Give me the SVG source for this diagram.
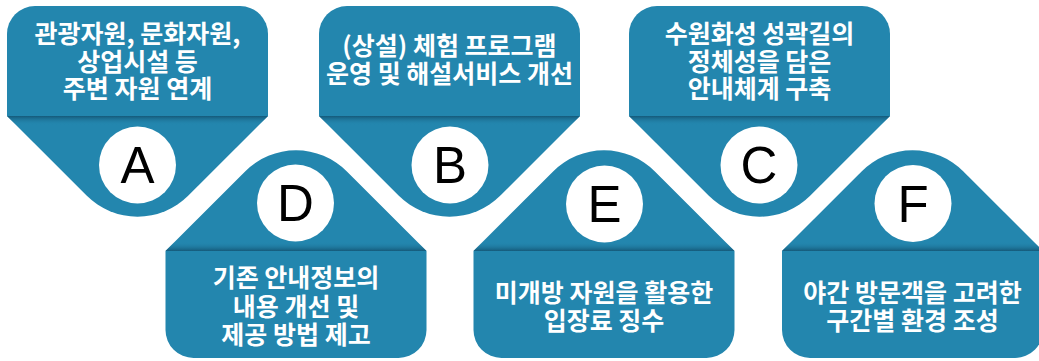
<svg xmlns="http://www.w3.org/2000/svg" width="1039" height="361" viewBox="0 0 1039 361">
<style>
.shape{fill:#2386ae}
.badge{fill:#ffffff}
.letter{font-family:"Liberation Sans",Arial,sans-serif;font-size:51px;fill:#000;text-anchor:middle}
.label{font-family:"Noto Sans CJK KR","Noto Sans",sans-serif;font-size:25px;font-weight:700;fill:#ffffff;text-anchor:middle}
</style>
<defs>
<linearGradient id="shTop" x1="0" y1="0" x2="0" y2="1">
<stop offset="0" stop-color="#155a7a"/>
<stop offset="1" stop-color="#2386ae" stop-opacity="0"/>
</linearGradient>
<linearGradient id="shBot" x1="0" y1="0" x2="0" y2="1">
<stop offset="0" stop-color="#2386ae" stop-opacity="0"/>
<stop offset="1" stop-color="#155a7a"/>
</linearGradient>
</defs>
<rect width="1039" height="361" fill="#ffffff"/>

<g id="node-A">
<path class="shape" d="M7,34 A28,28 0 0 1 35,6 H240 A28,28 0 0 1 268,34 V116 L188.4,195.6 A72,72 0 0 1 86.6,195.6 L7,116 Z"/>
<polygon points="7,116 268,116 259,125 16,125" fill="url(#shTop)"/>
<text class="label" x="137.5" y="43">관광자원, 문화자원,</text>
<text class="label" x="137.5" y="70.5">상업시설 등</text>
<text class="label" x="137.5" y="98">주변 자원 연계</text>
<circle class="badge" cx="137.5" cy="165" r="38.5"/>
<text class="letter" x="137.5" y="183">A</text>
</g>

<g id="node-B">
<path class="shape" d="M319,34 A28,28 0 0 1 347,6 H552 A28,28 0 0 1 580,34 V116 L500.4,195.6 A72,72 0 0 1 398.6,195.6 L319,116 Z"/>
<polygon points="319,116 580,116 571,125 328,125" fill="url(#shTop)"/>
<text class="label" x="449.5" y="55">(상설) 체험 프로그램</text>
<text class="label" x="449.5" y="83">운영 및 해설서비스 개선</text>
<circle class="badge" cx="450" cy="165" r="38.5"/>
<text class="letter" x="450" y="183">B</text>
</g>

<g id="node-C">
<path class="shape" d="M629,34 A28,28 0 0 1 657,6 H862 A28,28 0 0 1 890,34 V116 L810.4,195.6 A72,72 0 0 1 708.6,195.6 L629,116 Z"/>
<polygon points="629,116 890,116 881,125 638,125" fill="url(#shTop)"/>
<text class="label" x="759.5" y="43">수원화성 성곽길의</text>
<text class="label" x="759.5" y="70.5">정체성을 담은</text>
<text class="label" x="759.5" y="98">안내체계 구축</text>
<circle class="badge" cx="759" cy="165" r="38.5"/>
<text class="letter" x="759" y="183">C</text>
</g>

<g id="node-D">
<path class="shape" d="M165.5,251 L245.1,171.4 A72,72 0 0 1 346.9,171.4 L426.5,251 V330 A28,28 0 0 1 398.5,358 H193.5 A28,28 0 0 1 165.5,330 Z"/>
<polygon points="174.5,242 417.5,242 426.5,251 165.5,251" fill="url(#shBot)"/>
<circle class="badge" cx="295.5" cy="203" r="38.5"/>
<text class="letter" x="295.5" y="221">D</text>
<text class="label" x="296" y="287">기존 안내정보의</text>
<text class="label" x="296" y="315.5">내용 개선 및</text>
<text class="label" x="296" y="344">제공 방법 제고</text>
</g>

<g id="node-E">
<path class="shape" d="M473.5,251 L553.1,171.4 A72,72 0 0 1 654.9,171.4 L734.5,251 V330 A28,28 0 0 1 706.5,358 H501.5 A28,28 0 0 1 473.5,330 Z"/>
<polygon points="482.5,242 725.5,242 734.5,251 473.5,251" fill="url(#shBot)"/>
<circle class="badge" cx="604.5" cy="204" r="38.5"/>
<text class="letter" x="604.5" y="222">E</text>
<text class="label" x="604" y="302">미개방 자원을 활용한</text>
<text class="label" x="604" y="329.5">입장료 징수</text>
</g>

<g id="node-F">
<path class="shape" d="M782,251 L861.6,171.4 A72,72 0 0 1 963.4,171.4 L1043,251 V330 A28,28 0 0 1 1015,358 H810 A28,28 0 0 1 782,330 Z"/>
<polygon points="791,242 1034,242 1043,251 782,251" fill="url(#shBot)"/>
<circle class="badge" cx="913" cy="203.5" r="38.5"/>
<text class="letter" x="913" y="221.5">F</text>
<text class="label" x="912.5" y="302">야간 방문객을 고려한</text>
<text class="label" x="912.5" y="329.5">구간별 환경 조성</text>
</g>
</svg>
